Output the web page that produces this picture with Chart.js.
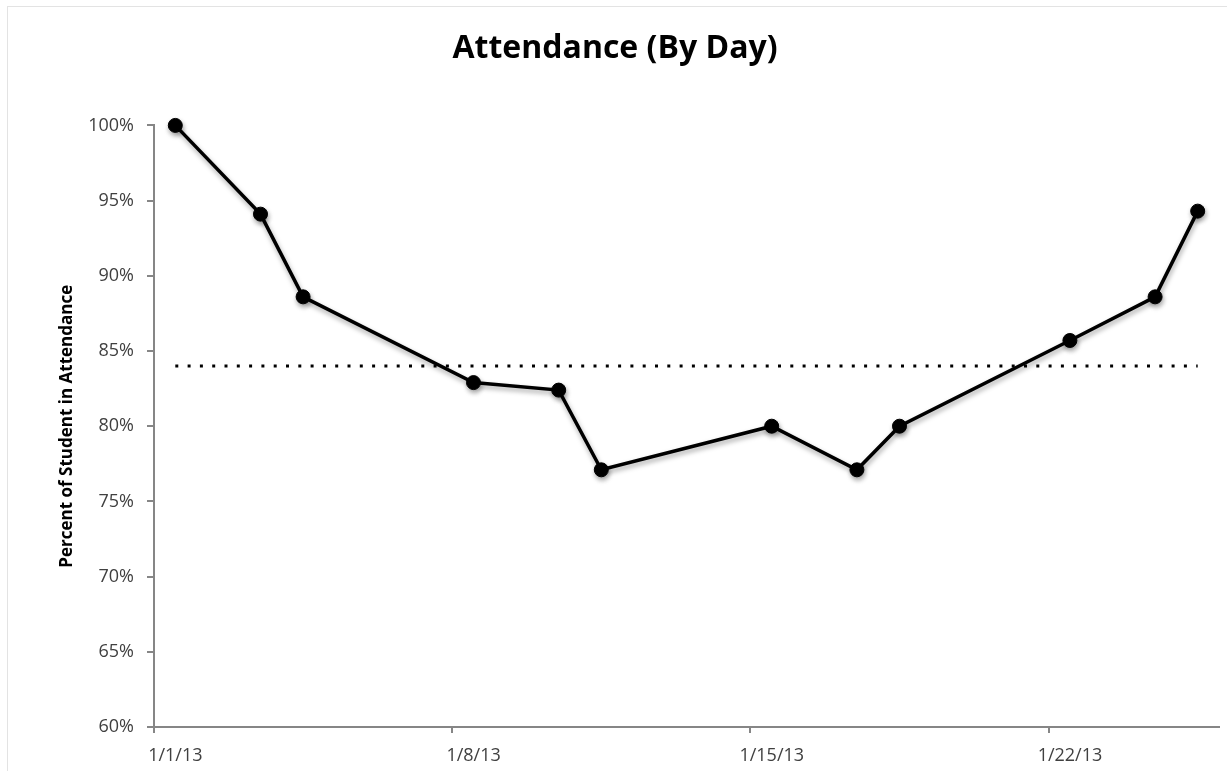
<!DOCTYPE html>
<html>
<head>
<meta charset="utf-8">
<script src="https://cdn.jsdelivr.net/npm/chart.js@4/dist/chart.umd.min.js"></script>
<style>
  html, body { margin: 0; padding: 0; background: #fff; overflow: hidden; }
  #wrap { position: relative; width: 1227px; height: 771px; }
  #frame { position: absolute; left: 7px; top: 6px; right: -20px; bottom: -20px; border: 1px solid #e3e3e3; }
  canvas { position: absolute; left: 0; top: 0; }
</style>
</head>
<body>
<div id="wrap">
  <div id="frame"></div>
  <canvas id="chart" width="1227" height="771"></canvas>
</div>
<script>
// data
const dates = ['1/1/13', '1/3/13', '1/4/13', '1/8/13', '1/10/13', '1/11/13',
               '1/15/13', '1/17/13', '1/18/13', '1/22/13', '1/24/13', '1/25/13'];
const attendance = [100, 94.1, 88.6, 82.9, 82.4, 77.1, 80.0, 77.1, 80.0, 85.7, 88.6, 94.3];
const targetLevel = 84;
const xTickLabels = ['1/1/13', '1/8/13', '1/15/13', '1/22/13'];
const yMin = 60, yMax = 100, yStep = 5;

// layout (canvas is fixed size)
const W = 1227, padLeft = 8, padRight = 5, yAxisWidth = 146;
const plotWidth = W - padLeft - padRight - yAxisWidth;

// day offset from 1/1/13 (Excel date axis puts each point in the middle of its day)
function dayIndex(d) {
  return parseInt(d.split('/')[1], 10) - 1;
}
const xMax = dayIndex(dates[dates.length - 1]) + 1;
const halfDayPx = plotWidth / xMax / 2;

const seriesPoints = dates.map((d, i) => ({ x: dayIndex(d) + 0.5, y: attendance[i] }));
const targetPoints = [dates[0], dates[dates.length - 1]].map(d => ({ x: dayIndex(d) + 0.5, y: targetLevel }));

const axisGray = '#868686';
const labelColor = '#404040';

// soft drop shadow under the main line, like the Excel original
const shadowPlugin = {
  id: 'shadow',
  beforeDatasetDraw(chart, args) {
    if (args.index !== 1) return;
    const ctx = chart.ctx;
    ctx.save();
    ctx.shadowColor = 'rgba(0,0,0,0.35)';
    ctx.shadowBlur = 5;
    ctx.shadowOffsetX = 1;
    ctx.shadowOffsetY = 3;
  },
  afterDatasetDraw(chart, args) {
    if (args.index !== 1) return;
    chart.ctx.restore();
  }
};

new Chart(document.getElementById('chart'), {
  type: 'line',
  data: {
    datasets: [
      {
        label: 'Target',
        data: targetPoints,
        borderColor: '#000',
        borderWidth: 3,
        borderDash: [3, 9.3],
        pointRadius: 0,
        fill: false
      },
      {
        label: 'Attendance',
        data: seriesPoints,
        borderColor: '#000',
        backgroundColor: '#000',
        borderWidth: 3.5,
        pointRadius: 7,
        pointBackgroundColor: '#000',
        pointBorderColor: '#000',
        pointBorderWidth: 1,
        tension: 0,
        clip: false,
        fill: false
      }
    ]
  },
  options: {
    responsive: false,
    animation: false,
    layout: { padding: { left: padLeft, right: padRight, top: 0, bottom: 0 } },
    plugins: {
      legend: { display: false },
      tooltip: { enabled: false },
      title: {
        display: true,
        text: 'Attendance (By Day)',
        color: '#000',
        font: { family: 'Open Sans', size: 32, weight: 'bold' },
        padding: { top: 30, bottom: 57 }
      }
    },
    scales: {
      x: {
        type: 'linear',
        min: 0,
        max: xMax,
        afterFit(scale) { scale.height = 44; },
        afterBuildTicks(scale) {
          scale.ticks = xTickLabels.map(l => ({ value: dayIndex(l) }));
        },
        border: { display: true, color: axisGray, width: 2 },
        grid: { display: true, drawOnChartArea: false, drawTicks: true, tickLength: 6, color: axisGray, lineWidth: 2 },
        ticks: {
          color: labelColor,
          font: { family: 'Open Sans', size: 18 },
          padding: 12,
          maxRotation: 0,
          labelOffset: halfDayPx,
          callback: (v) => xTickLabels.find(l => dayIndex(l) === v) || ''
        }
      },
      y: {
        min: yMin,
        max: yMax,
        afterFit(scale) { scale.width = yAxisWidth; },
        border: { display: true, color: axisGray, width: 2 },
        grid: { display: true, drawOnChartArea: false, drawTicks: true, tickLength: 7, color: axisGray, lineWidth: 2 },
        ticks: {
          stepSize: yStep,
          color: labelColor,
          font: { family: 'Open Sans', size: 18 },
          padding: 13,
          callback: (v) => v + '%'
        },
        title: {
          display: true,
          text: 'Percent of Student in Attendance',
          color: '#000',
          font: { family: 'Open Sans', size: 17, weight: 'bold' },
          padding: { top: 49, bottom: 0 }
        }
      }
    }
  },
  plugins: [shadowPlugin]
});
</script>
</body>
</html>
